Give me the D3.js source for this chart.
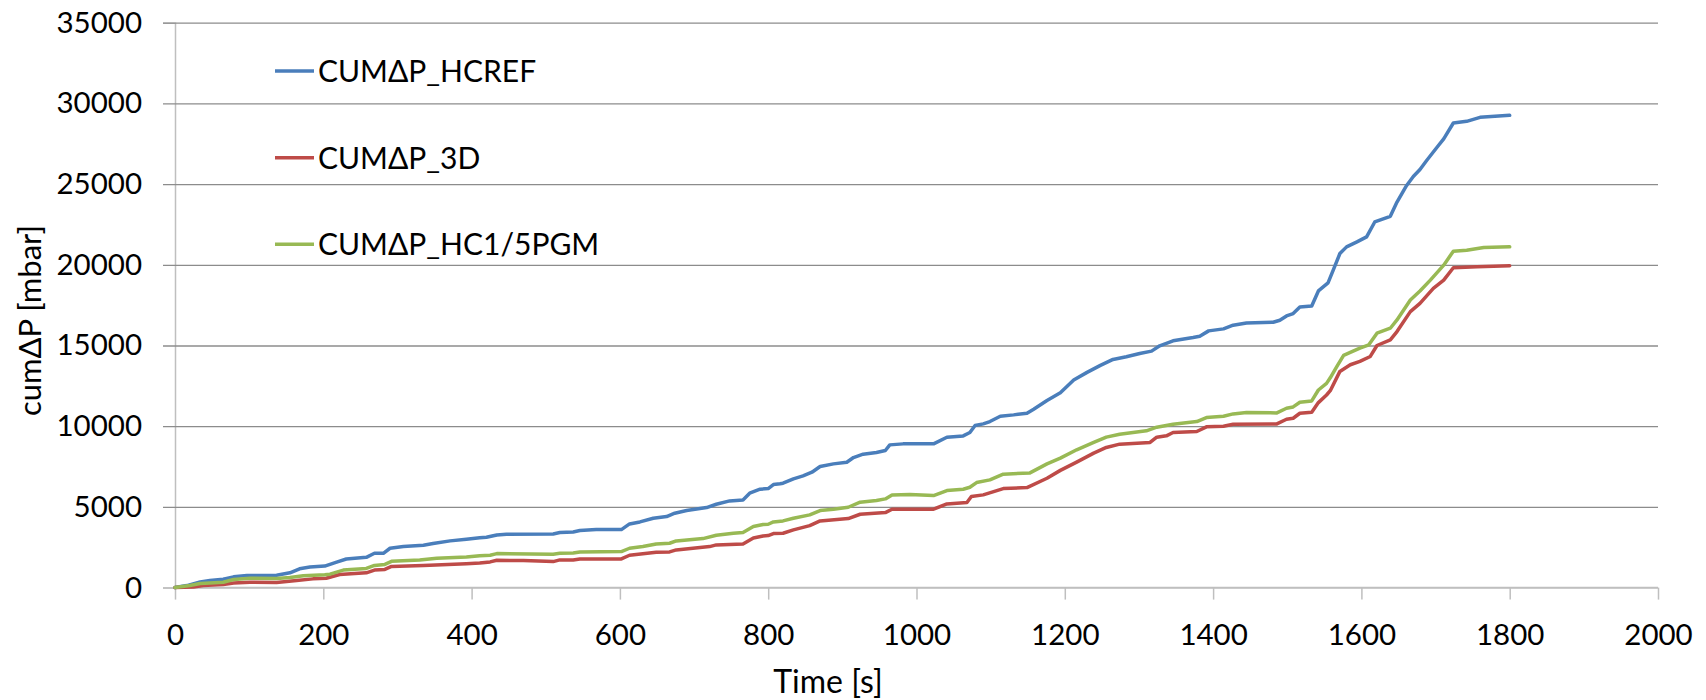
<!DOCTYPE html>
<html>
<head>
<meta charset="utf-8">
<script src="https://cdn.jsdelivr.net/npm/d3@7"></script>
<style>
  html, body { margin: 0; padding: 0; background: #fff; }
  svg { display: block; }
  text { font-family: Lato, "Open Sans", sans-serif; fill: #000; }
</style>
</head>
<body>
<svg id="chart" width="1706" height="700"></svg>
<script>
// ---- data (time [s], cumulative ΔP [mbar]) ----
const seriesNames = ["CUMΔP_HCREF", "CUMΔP_3D", "CUMΔP_HC1/5PGM"];
const seriesColors = ["#4a7ebb", "#be4b48", "#98b954"];

const xTicks = [0, 200, 400, 600, 800, 1000, 1200, 1400, 1600, 1800, 2000];
const yTicks = [0, 5000, 10000, 15000, 20000, 25000, 30000, 35000];

const hcref = [[0,0],[16,125],[34,354],[47,437],[65,520],[79,667],[97,750],[137,770],[155,917],[168,1167],[182,1270],[202,1333],[218,1583],[231,1770],[258,1875],[269,2125],[281,2125],[290,2437],[308,2541],[335,2625],[348,2729],[371,2895],[393,3000],[411,3083],[420,3120],[434,3264],[447,3306],[510,3326],[519,3409],[537,3450],[546,3533],[568,3595],[602,3595],[613,3946],[627,4070],[645,4297],[663,4400],[674,4607],[690,4772],[717,4958],[730,5165],[748,5372],[766,5434],[775,5847],[789,6095],[800,6136],[807,6384],[816,6430],[820,6467],[834,6735],[847,6921],[859,7149],[870,7500],[888,7665],[906,7768],[915,8058],[928,8264],[946,8368],[958,8492],[964,8843],[982,8905],[1023,8905],[1041,9318],[1063,9400],[1072,9607],[1079,10041],[1090,10144],[1099,10289],[1113,10620],[1131,10702],[1149,10805],[1158,11053],[1176,11591],[1194,12070],[1212,12861],[1230,13334],[1248,13766],[1265,14137],[1283,14301],[1301,14507],[1317,14651],[1328,14980],[1346,15289],[1373,15495],[1382,15577],[1394,15906],[1414,16030],[1427,16256],[1445,16400],[1481,16441],[1490,16565],[1499,16833],[1508,16977],[1517,17380],[1533,17450],[1542,18380],[1555,18880],[1562,19671],[1571,20700],[1580,21111],[1594,21420],[1607,21728],[1618,22654],[1639,23004],[1648,23889],[1661,24918],[1670,25473],[1679,25905],[1688,26461],[1702,27284],[1711,27798],[1724,28786],[1742,28889],[1760,29136],[1800,29260]];

const d3series = [[0,0],[25,40],[38,125],[65,187],[79,291],[101,333],[137,312],[164,437],[186,541],[204,583],[222,812],[258,917],[269,1083],[283,1125],[292,1312],[335,1375],[393,1479],[411,1520],[425,1591],[434,1694],[470,1673],[510,1612],[519,1715],[537,1715],[546,1777],[602,1777],[613,2004],[649,2190],[667,2211],[676,2335],[721,2541],[730,2645],[766,2706],[780,3078],[793,3202],[800,3223],[807,3347],[820,3368],[834,3574],[856,3843],[870,4132],[908,4277],[924,4545],[958,4649],[967,4855],[1023,4855],[1041,5186],[1068,5269],[1074,5640],[1090,5744],[1117,6136],[1149,6198],[1176,6777],[1194,7263],[1216,7777],[1239,8333],[1256,8683],[1274,8889],[1315,8992],[1324,9321],[1337,9403],[1346,9609],[1378,9671],[1391,9959],[1414,10000],[1427,10123],[1486,10144],[1499,10432],[1508,10494],[1517,10803],[1533,10864],[1542,11461],[1553,11934],[1558,12200],[1571,13395],[1585,13807],[1598,14012],[1612,14321],[1621,15000],[1639,15350],[1648,15864],[1666,17099],[1679,17613],[1697,18539],[1711,19053],[1724,19815],[1756,19877],[1800,19938]];

const hc15pgm = [[0,0],[20,125],[34,250],[47,291],[65,333],[79,500],[101,583],[137,562],[155,625],[173,729],[202,791],[209,833],[227,1083],[258,1187],[269,1375],[283,1437],[292,1625],[330,1708],[353,1812],[393,1895],[411,1979],[425,2004],[434,2107],[510,2066],[519,2128],[537,2149],[546,2210],[602,2231],[613,2438],[631,2541],[649,2706],[667,2748],[676,2892],[712,3037],[730,3244],[753,3368],[766,3409],[780,3781],[793,3905],[800,3925],[807,4070],[820,4132],[834,4298],[856,4504],[870,4773],[888,4855],[908,4979],[924,5289],[946,5392],[958,5496],[967,5744],[991,5764],[1023,5702],[1041,6012],[1063,6095],[1072,6219],[1081,6508],[1099,6673],[1117,7025],[1153,7107],[1176,7665],[1194,8024],[1216,8539],[1239,8992],[1256,9321],[1274,9506],[1310,9712],[1324,9938],[1346,10123],[1378,10288],[1391,10535],[1414,10617],[1427,10761],[1445,10844],[1486,10823],[1499,11111],[1508,11194],[1517,11482],[1533,11564],[1542,12243],[1553,12655],[1558,13000],[1567,13704],[1576,14383],[1585,14568],[1598,14835],[1610,15041],[1621,15761],[1639,16070],[1648,16584],[1666,17819],[1679,18374],[1693,19053],[1711,19979],[1724,20844],[1742,20905],[1765,21070],[1800,21111]];

const seriesData = [hcref, d3series, hc15pgm];

// ---- layout ----
const svg = d3.select("#chart");
const x = d3.scaleLinear().domain([0, 2000]).range([175, 1658]);
const y = d3.scaleLinear().domain([0, 35000]).range([587.6, 22.7]);

// gridlines + y axis
const yAxis = d3.axisLeft(y).tickValues(yTicks).tickSize(12).tickPadding(21).tickFormat(d3.format("d"));
const gy = svg.append("g").attr("transform", `translate(${x(0)},0)`).call(yAxis);
gy.select(".domain").attr("stroke", "#bfbfbf").attr("stroke-width", 1.5);
gy.selectAll(".tick line").attr("stroke", "#8c8c8c").attr("stroke-width", 1.3)
  .attr("x1", -12).attr("x2", x(2000) - x(0));
gy.selectAll(".tick").filter(d => d === 0).select("line").attr("stroke", "#bfbfbf").attr("stroke-width", 1.5);
gy.selectAll(".tick text").style("font-size", "29.5px").style("font-family", "Lato, sans-serif").attr("fill", "#000");

// x axis
const xAxis = d3.axisBottom(x).tickValues(xTicks).tickSize(12).tickPadding(24).tickFormat(d3.format("d"));
const gx = svg.append("g").attr("transform", `translate(0,${y(0)})`).call(xAxis);
gx.select(".domain").attr("stroke", "#bfbfbf").attr("stroke-width", 1.5).attr("d", `M${x(0)},0H${x(2000)}`);
gx.selectAll(".tick line").attr("stroke", "#bfbfbf").attr("stroke-width", 1.5);
gx.selectAll(".tick text").style("font-size", "29.5px").style("font-family", "Lato, sans-serif").attr("fill", "#000");

// lines
const line = d3.line().x(d => x(d[0])).y(d => y(d[1]));
svg.append("g").selectAll("path").data(seriesData).join("path")
  .attr("d", line)
  .attr("fill", "none")
  .attr("stroke", (d, i) => seriesColors[i])
  .attr("stroke-width", 3.5)
  .attr("stroke-linejoin", "round")
  .attr("stroke-linecap", "round");

// legend
const legendY = [71, 157.7, 244.3];
const lg = svg.append("g");
seriesNames.forEach((name, i) => {
  lg.append("line").attr("x1", 275).attr("x2", 314).attr("y1", legendY[i]).attr("y2", legendY[i])
    .attr("stroke", seriesColors[i]).attr("stroke-width", 3.5);
  lg.append("text").attr("x", 318).attr("y", legendY[i] + 10.8)
    .style("font-size", "30px").text(name);
});

// axis titles
svg.append("text").attr("x", 828).attr("y", 693).attr("text-anchor", "middle")
  .style("font-size", "32px").text("Time [s]");
svg.append("text").attr("transform", "translate(41,320.5) rotate(-90)").attr("text-anchor", "middle")
  .style("font-size", "31px").text("cumΔP [mbar]");
</script>
</body>
</html>
